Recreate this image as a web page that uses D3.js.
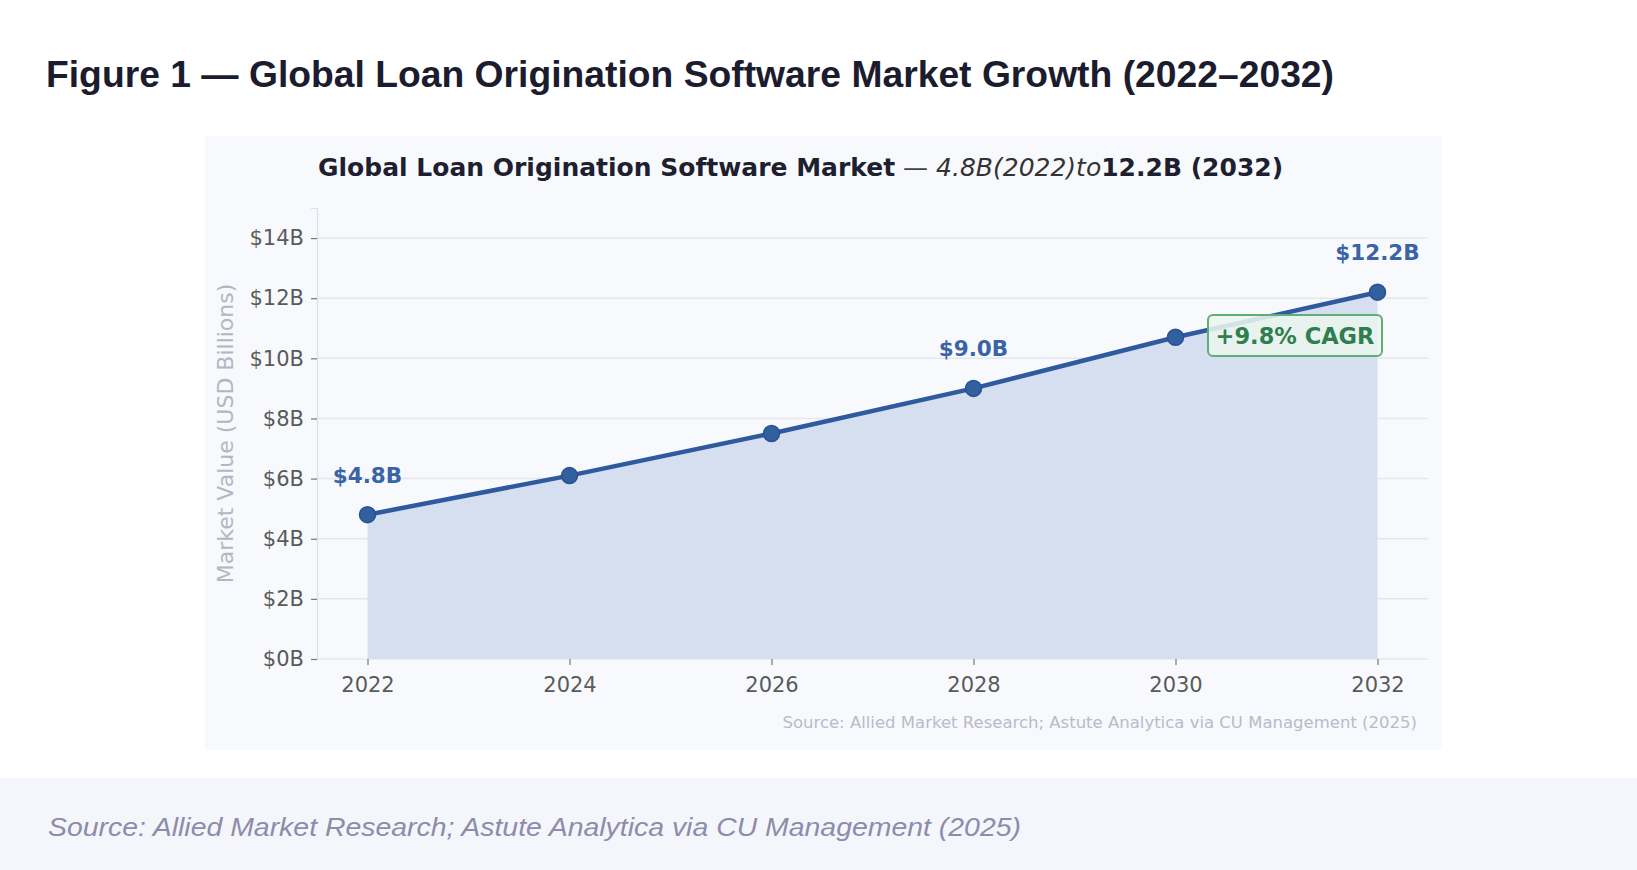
<!DOCTYPE html>
<html>
<head>
<meta charset="utf-8">
<script src="https://cdn.jsdelivr.net/npm/d3@7"></script>
<style>
  body { margin: 0; background: #fff; }
  svg { display: block; }
</style>
</head>
<body>
<script>
// market values, USD billions
var years = [2022, 2024, 2026, 2028, 2030, 2032];
var values = [4.8, 6.1, 7.5, 9.0, 10.7, 12.2];
var labelled = [2022, 2028, 2032]; // points that get a value label
var yTicks = [0, 2, 4, 6, 8, 10, 12, 14];
var xTicks = [2022, 2024, 2026, 2028, 2030, 2032];

var W = 1637, H = 870;
var blue = "#2f5a9e";

var svg = d3.select("body").append("svg")
  .attr("width", W)
  .attr("height", H);

// outer heading
svg.append("text")
  .attr("x", 46).attr("y", 87)
  .attr("font-family", "Liberation Sans, Arial, sans-serif")
  .attr("font-weight", "bold")
  .attr("font-size", 37)
  .attr("fill", "#1b1c2e")
  .attr("textLength", 1288)
  .attr("lengthAdjust", "spacingAndGlyphs")
  .text("Figure 1 \u2014 Global Loan Origination Software Market Growth (2022\u20132032)");

// chart panel
svg.append("rect")
  .attr("x", 205).attr("y", 136)
  .attr("width", 1237).attr("height", 614)
  .attr("fill", "#f8f9fd");

// bottom caption band
svg.append("rect")
  .attr("x", 0).attr("y", 778)
  .attr("width", W).attr("height", H - 778)
  .attr("fill", "#f5f6fb");
svg.append("text")
  .attr("x", 48).attr("y", 836)
  .attr("font-family", "Liberation Sans, Arial, sans-serif")
  .attr("font-style", "italic")
  .attr("font-size", 25)
  .attr("fill", "#8d8cab")
  .attr("textLength", 973)
  .attr("lengthAdjust", "spacingAndGlyphs")
  .text("Source: Allied Market Research; Astute Analytica via CU Management (2025)");

// inner chart
var x = d3.scaleLinear().domain([2021.5, 2032.5]).range([317, 1428]);
var y = d3.scaleLinear().domain([0, 15]).range([659, 208]);
var font = "DejaVu Sans, sans-serif";

// chart title, mixed weights like the original
var title = svg.append("text")
  .attr("x", 318).attr("y", 176)
  .attr("font-family", font)
  .attr("font-size", 25)
  .attr("fill", "#1e1f30");
title.append("tspan").attr("font-weight", "bold").text("Global Loan Origination Software Market");
title.append("tspan").attr("fill", "#444").text(" \u2014 ");
title.append("tspan").attr("font-style", "italic").attr("fill", "#333").text("4.8B(2022)to");
title.append("tspan").attr("font-weight", "bold").text("12.2B (2032)");

// gridlines
svg.append("g")
  .selectAll("line")
  .data(yTicks)
  .join("line")
  .attr("x1", x.range()[0]).attr("x2", x.range()[1])
  .attr("y1", function(d) { return y(d); })
  .attr("y2", function(d) { return y(d); })
  .attr("stroke", "#e5e7ef")
  .attr("stroke-width", 1.5);

// axes
var yAxis = svg.append("g")
  .attr("transform", "translate(" + x.range()[0] + ",0)")
  .call(d3.axisLeft(y).tickValues(yTicks).tickSize(6).tickPadding(7)
    .tickFormat(function(d) { return "$" + d + "B"; }));
var xAxis = svg.append("g")
  .attr("transform", "translate(0," + y(0) + ")")
  .call(d3.axisBottom(x).tickValues(xTicks).tickSize(6).tickPadding(12)
    .tickFormat(d3.format("d")));

[yAxis, xAxis].forEach(function(a) {
  a.select(".domain").attr("stroke", "#dcdfe8").attr("stroke-width", 1.2);
  a.selectAll(".tick line").attr("stroke", "#777").attr("stroke-width", 1.2);
  a.selectAll(".tick text")
    .attr("font-family", font)
    .attr("font-size", 21)
    .attr("fill", "#5a5a5a");
});
xAxis.select(".domain").remove();

svg.append("text")
  .attr("transform", "translate(233," + y(7.5) + ") rotate(-90)")
  .attr("text-anchor", "middle")
  .attr("font-family", font)
  .attr("font-size", 22)
  .attr("fill", "#b3b6c3")
  .text("Market Value (USD Billions)");

// area + line
var pts = years.map(function(d, i) { return { year: d, value: values[i] }; });

svg.append("path")
  .datum(pts)
  .attr("fill", "#d5dfef")
  .attr("d", d3.area()
    .x(function(d) { return x(d.year); })
    .y0(y(0))
    .y1(function(d) { return y(d.value); }));

svg.append("path")
  .datum(pts)
  .attr("fill", "none")
  .attr("stroke", blue)
  .attr("stroke-width", 4.5)
  .attr("stroke-linejoin", "round")
  .attr("d", d3.line()
    .x(function(d) { return x(d.year); })
    .y(function(d) { return y(d.value); }));

svg.append("g")
  .selectAll("circle")
  .data(pts)
  .join("circle")
  .attr("cx", function(d) { return x(d.year); })
  .attr("cy", function(d) { return y(d.value); })
  .attr("r", 8)
  .attr("fill", "#32609f")
  .attr("stroke", "#2a5190")
  .attr("stroke-width", 1.5);

// value labels
svg.append("g")
  .selectAll("text")
  .data(pts.filter(function(d) { return labelled.indexOf(d.year) >= 0; }))
  .join("text")
  .attr("x", function(d) { return x(d.year); })
  .attr("y", function(d) { return y(d.value) - 32; })
  .attr("text-anchor", "middle")
  .attr("font-family", font)
  .attr("font-weight", "bold")
  .attr("font-size", 21.5)
  .attr("fill", "#3a64a6")
  .text(function(d) { return "$" + d3.format(".1f")(d.value) + "B"; });

// CAGR badge
var badge = svg.append("g");
badge.append("rect")
  .attr("x", 1208).attr("y", 315)
  .attr("width", 174).attr("height", 41)
  .attr("rx", 5)
  .attr("fill", "#eaf5ee")
  .attr("fill-opacity", 0.88)
  .attr("stroke", "#5fae78")
  .attr("stroke-width", 2);
badge.append("text")
  .attr("x", 1295).attr("y", 344)
  .attr("text-anchor", "middle")
  .attr("font-family", font)
  .attr("font-weight", "bold")
  .attr("font-size", 22.5)
  .attr("fill", "#2f7e4f")
  .text("+9.8% CAGR");

// inner source note
svg.append("text")
  .attr("x", 1417).attr("y", 728)
  .attr("text-anchor", "end")
  .attr("font-family", font)
  .attr("font-size", 16.5)
  .attr("fill", "#b9bbc9")
  .text("Source: Allied Market Research; Astute Analytica via CU Management (2025)");
</script>
</body>
</html>
